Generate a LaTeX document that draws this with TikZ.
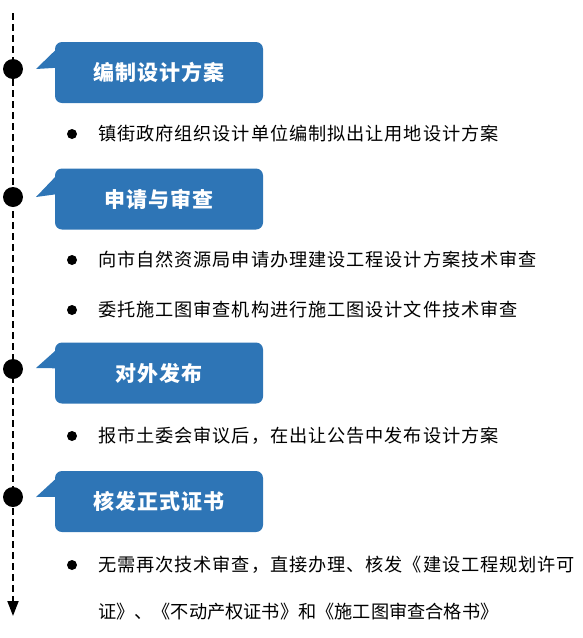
\documentclass[tikz,border=0pt]{standalone}
\usepackage{fontspec}
\newfontfamily\cjk[LetterSpace=5]{Noto Sans CJK SC}
\newfontfamily\cjktight{Noto Sans CJK SC}
\newfontfamily\cjkt[LetterSpace=5]{Noto Sans CJK SC}
\usetikzlibrary{arrows.meta,calc}
\definecolor{boxblue}{RGB}{46,117,182}
\begin{document}
\begin{tikzpicture}[x=1pt,y=-1pt,
  titlebox/.style={fill=boxblue,rounded corners=7pt,minimum width=208pt,minimum height=61pt,inner sep=0pt,text=white,font=\cjkt\bfseries\fontsize{21}{24}\selectfont},
  tailfill/.style={fill=boxblue},
  dot/.style={circle,fill=black,minimum size=20pt,inner sep=0pt},
  bullet/.style={circle,fill=black,minimum size=10pt,inner sep=0pt},
  item/.style={anchor=west,inner sep=0pt,font=\cjk\fontsize{18.2}{20}\selectfont},
  timeline/.style={line width=1.8pt,dash pattern=on 7pt off 4pt,-{Triangle[width=11pt,length=15pt]}}]
\useasboundingbox (0,0) rectangle (582,638);
% timeline
\coordinate (top) at (13,13);
\coordinate (bottom) at (13,616);
\draw[timeline] (top) -- (bottom);
\node[dot] (c1) at (13,69) {};
\node[dot] (c2) at (13,197) {};
\node[dot] (c3) at (13,369) {};
\node[dot] (c4) at (13,497) {};
% title boxes
\node[titlebox] (t1) at (159,72.5) {编制设计方案};
\node[titlebox] (t2) at (159,199) {申请与审查};
\node[titlebox] (t3) at (159,373) {对外发布};
\node[titlebox] (t4) at (159,501.5) {核发正式证书};
\foreach \t/\ty in {t1/69,t2/197,t3/368,t4/497}{
  \fill[tailfill] ($(\t.north west)+(1,8)$) -- (36,\ty) -- ($(\t.north west)+(1,26)$) -- cycle;
}
% items
\node[bullet] (b1) at (72,134) {};
\node[item] (i1) at (98,134) {镇街政府组织设计单位编制拟出让用地设计方案};
\node[bullet] (b2) at (72,260) {};
\node[item] (i2) at (98,260) {向市自然资源局申请办理建设工程设计方案技术审查};
\node[bullet] (b3) at (72,310) {};
\node[item] (i3) at (98,310) {委托施工图审查机构进行施工图设计文件技术审查};
\node[bullet] (b4) at (72,436) {};
\node[item] (i4) at (98,436) {报市土委会审议后，在出让公告中发布设计方案};
\node[bullet] (b5) at (72,565) {};
\node[item] (i5) at (98,565) {无需再次技术审查，直接办理、核发《建设工程规划许可};
\node[item,font=\cjktight\fontsize{18.2}{20}\selectfont] (i6) at (98,612) {证》、《不动产权证书》和《施工图审查合格书》};
\end{tikzpicture}
\end{document}
